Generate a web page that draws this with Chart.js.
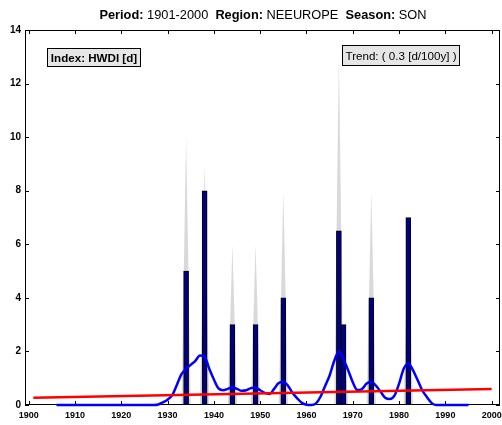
<!DOCTYPE html>
<html>
<head>
<meta charset="utf-8">
<script src="https://cdn.jsdelivr.net/npm/chart.js@4/dist/chart.umd.min.js"></script>
<style>
  body { margin: 0; background: #fff; }
  canvas { display: block; }
</style>
</head>
<body>
<canvas id="hwdi" width="502" height="425"></canvas>
<script>
// yearly index values (bars) and the upper end of the grey spikes
const years = [1934, 1938, 1944, 1949, 1955, 1967, 1968, 1974, 1982]
const hwdi = [5, 8, 3, 3, 4, 6.5, 3, 4, 7]
const hwdiMax = [10, 9, 6, 6, 8, 13, 3, 8, 7]

// smoothed curve, one value per year from 1906 to 1995
const smoothStart = 1906
const smoothed = [
  0, 0, 0, 0, 0, 0, 0, 0, 0, 0,          // 1906-1915
  0, 0, 0, 0, 0, 0, 0, 0, 0, 0,          // 1916-1925
  0, 0, 0.02, 0.1, 0.2, 0.37, 0.75, 1.15, 1.35, 1.5,   // 1926-1935
  1.65, 1.85, 1.8, 1.35, 0.95, 0.62, 0.55, 0.6, 0.66, 0.6, // 1936-1945
  0.53, 0.55, 0.63, 0.65, 0.55, 0.45, 0.41, 0.6, 0.82, 0.87, // 1946-1955
  0.72, 0.45, 0.25, 0.08, 0.01, 0, 0.05, 0.3, 0.7, 1.1,   // 1956-1965
  1.65, 2.0, 1.7, 1.3, 0.85, 0.56, 0.6, 0.8, 0.87, 0.72,  // 1966-1975
  0.5, 0.27, 0.22, 0.35, 0.8, 1.35, 1.55, 1.3, 0.93, 0.55, // 1976-1985
  0.3, 0.08, 0, 0, 0, 0, 0, 0, 0, 0       // 1986-1995
]

// linear trend
const trendYears = [1901, 2000]
const trendValues = [0.27, 0.6]

const xTicks = [1900, 1910, 1920, 1930, 1940, 1950, 1960, 1970, 1980, 1990, 2000]
const yTicks = [0, 2, 4, 6, 8, 10, 12, 14]

const $grafica = document.querySelector('#hwdi')

// grey spikes and the axes box go under the data
const underlay = {
  id: 'underlay',
  beforeDatasetsDraw(chart) {
    const { ctx, chartArea: a, scales: { x, y } } = chart
    ctx.save()
    ctx.fillStyle = 'rgba(185,185,185,0.55)'
    years.forEach((yr, i) => {
      const l = x.getPixelForValue(yr - 1)
      const r = x.getPixelForValue(yr + 1)
      const c = x.getPixelForValue(yr)
      ctx.beginPath()
      ctx.moveTo(l, y.getPixelForValue(0))
      ctx.lineTo(c, y.getPixelForValue(hwdiMax[i]))
      ctx.lineTo(r, y.getPixelForValue(0))
      ctx.closePath()
      ctx.fill()
    })

    ctx.strokeStyle = '#000'
    ctx.lineWidth = 1
    ctx.strokeRect(a.left + 0.5, a.top + 0.5, a.right - a.left - 1, a.bottom - a.top - 1)
    ctx.beginPath()
    xTicks.forEach(v => {
      const px = Math.round(x.getPixelForValue(v)) + 0.5
      ctx.moveTo(px, a.bottom); ctx.lineTo(px, a.bottom - 4)
      ctx.moveTo(px, a.top); ctx.lineTo(px, a.top + 4)
    })
    yTicks.forEach(v => {
      const py = Math.round(y.getPixelForValue(v)) + 0.5
      ctx.moveTo(a.left, py); ctx.lineTo(a.left + 4, py)
      ctx.moveTo(a.right, py); ctx.lineTo(a.right - 4, py)
    })
    ctx.stroke()
    ctx.restore()
  }
}

const overlay = {
  id: 'overlay',
  afterDraw(chart) {
    const { ctx } = chart
    ctx.save()
    // title with bold labels
    const parts = [
      ['Period:', true], [' 1901-2000  ', false],
      ['Region:', true], [' NEEUROPE  ', false],
      ['Season:', true], [' SON', false]
    ]
    const f = b => (b ? 'bold ' : '') + '12.8px "Liberation Sans", Arial, sans-serif'
    let w = 0
    parts.forEach(([t, b]) => { ctx.font = f(b); w += ctx.measureText(t).width })
    let tx = 263 - w / 2
    ctx.fillStyle = '#000'
    ctx.textBaseline = 'alphabetic'
    parts.forEach(([t, b]) => {
      ctx.font = f(b)
      ctx.fillText(t, tx, 19)
      tx += ctx.measureText(t).width
    })

    // annotation boxes
    const box = (x0, y0, x1, y1, text, bold, baseline) => {
      ctx.fillStyle = '#e6e6e6'
      ctx.fillRect(x0, y0, x1 - x0, y1 - y0)
      ctx.strokeStyle = '#000'
      ctx.lineWidth = 1
      ctx.strokeRect(x0 + 0.5, y0 + 0.5, x1 - x0 - 1, y1 - y0 - 1)
      ctx.fillStyle = '#000'
      ctx.font = (bold ? 'bold ' : '') + '11.6px "Liberation Sans", Arial, sans-serif'
      ctx.textAlign = 'center'
      ctx.fillText(text, (x0 + x1) / 2, baseline)
      ctx.textAlign = 'left'
    }
    box(47, 48, 141, 67, 'Index: HWDI [d]', true, 61.5)
    box(342, 45, 460, 66, 'Trend: ( 0.3 [d/100y] )', false, 59.5)
    ctx.restore()
  }
}

new Chart($grafica, {
  type: 'bar',
  data: {
    datasets: [
      {
        type: 'line',
        label: 'trend',
        data: trendYears.map((t, i) => ({ x: t, y: trendValues[i] })),
        borderColor: '#ff0000',
        borderWidth: 2.5,
        pointRadius: 0,
        clip: false,
        order: 1
      },
      {
        type: 'line',
        label: 'smoothed',
        data: smoothed.map((v, i) => ({ x: smoothStart + i, y: v })),
        borderColor: '#0000ff',
        borderWidth: 2.5,
        pointRadius: 0,
        cubicInterpolationMode: 'monotone',
        clip: false,
        order: 2
      },
      {
        label: 'HWDI',
        data: years.map((t, i) => ({ x: t, y: hwdi[i] })),
        backgroundColor: '#000080',
        borderColor: '#000000',
        borderWidth: 1,
        borderSkipped: false,
        barThickness: 5,
        order: 3
      }
    ]
  },
  options: {
    responsive: false,
    animation: false,
    layout: { padding: { top: 30, right: 2, left: 0, bottom: 0 } },
    plugins: { legend: { display: false }, tooltip: { enabled: false } },
    scales: {
      x: {
        type: 'linear',
        offset: false,
        min: 1899.2,
        max: 2001.8,
        grid: { display: false, drawTicks: false, offset: false },
        border: { display: false },
        afterBuildTicks: s => { s.ticks = xTicks.map(v => ({ value: v })) },
        afterFit: s => { s.height = 20; s.paddingLeft = 0; s.paddingRight = 0 },
        ticks: {
          autoSkip: false,
          maxRotation: 0,
          padding: 5,
          color: '#000',
          callback: v => String(v),
          font: { family: '"Liberation Sans", Arial, sans-serif', size: 9, weight: 'bold' }
        }
      },
      y: {
        min: 0,
        max: 14,
        grid: { display: false, drawTicks: false },
        border: { display: false },
        afterBuildTicks: s => { s.ticks = yTicks.map(v => ({ value: v })) },
        afterFit: s => { s.width = 25; s.paddingTop = 0; s.paddingBottom = 0 },
        ticks: {
          padding: 4,
          color: '#000',
          callback: v => String(v),
          font: { family: '"Liberation Sans", Arial, sans-serif', size: 10, weight: 'bold' }
        }
      }
    }
  },
  plugins: [underlay, overlay]
})
</script>
</body>
</html>
